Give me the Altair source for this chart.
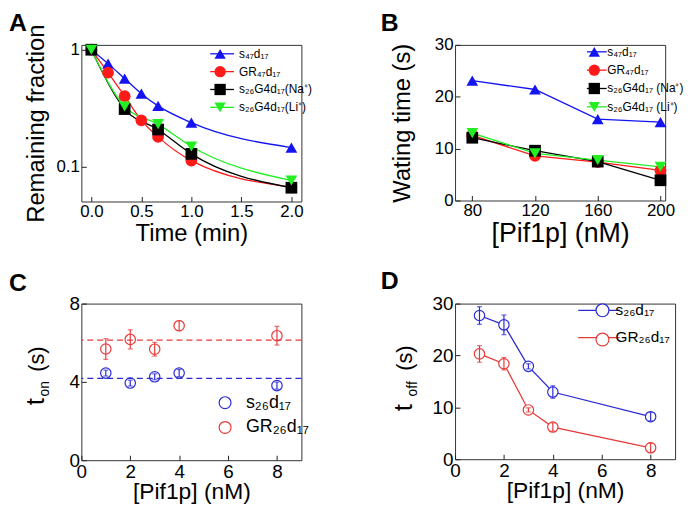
import altair as alt
import pandas as pd

FONT = "Liberation Sans"

# ---------------- Panel A data ----------------
a_series = ["s₄₇d₁₇", "GR₄₇d₁₇", "s₂₆G4d₁₇(Na⁺)", "s₂₆G4d₁₇(Li⁺)"]
a_colors = ["#1414f0", "#ff1a1a", "#000000", "#22ee22"]
a_shapes = ["triangle-up", "circle", "square", "triangle-down"]
a_t_s47 = [0, 0.167, 0.333, 0.5, 0.667, 1.0, 2.0]
a_s47 = [1.0, 0.76, 0.565, 0.42, 0.33, 0.237, 0.145]
a_t_gr47 = [0, 0.167, 0.333, 0.5, 0.667, 1.0, 2.0]
a_gr47 = [1.0, 0.635, 0.40, 0.248, 0.179, 0.112, 0.0665]
a_t_na = [0, 0.333, 0.667, 1.0, 2.0]
a_na = [1.0, 0.31, 0.207, 0.128, 0.0656]
a_t_li = [0, 0.333, 0.667, 1.0, 2.0]
a_li = [1.0, 0.326, 0.23, 0.148, 0.0757]

# ---------------- Panel B data ----------------
b_series = ["s₄₇d₁₇", "GR₄₇d₁₇", "s₂₆G4d₁₇ (Na⁺)", "s₂₆G4d₁₇ (Li⁺)"]
b_conc = [80, 120, 160, 200]
b_s47 = [23.1, 21.4, 15.7, 15.1]
b_gr47 = [12.55, 8.6, 7.4, 5.8]
b_na = [12.1, 9.6, 7.5, 3.9]
b_li = [13.0, 9.1, 7.8, 6.5]

# ---------------- Panel C / D data ----------------
cd_series = ["s₂₆d₁₇", "GR₂₆d₁₇"]
cd_colors = ["#2b2bd4", "#e63a3a"]
cd_conc = [1, 2, 3, 4, 8]
c_s26 = [4.45, 3.94, 4.26, 4.45, 3.81]
c_s26_err = [0.15, 0.15, 0.15, 0.18, 0.18]
c_gr26 = [5.68, 6.17, 5.67, 6.87, 6.36]
c_gr26_err = [0.53, 0.49, 0.35, 0.25, 0.48]
c_mean = [4.18, 6.13]
d_s26 = [27.7, 25.9, 17.9, 12.95, 8.2]
d_s26_err = [1.7, 1.9, 0.5, 1.2, 0.8]
d_gr26 = [20.3, 18.4, 9.5, 6.2, 2.2]
d_gr26_err = [1.6, 1.2, 0.4, 0.8, 0.9]

ZW = "\u200b"  # keeps symbol legends separate from the line legends
LINE_SYM = "M-4,0L4,0"

W_A, H_A = 222, 158
W_B, H_B = 212, 157
W_C, H_C = 222, 158
W_D, H_D = 222, 157


def long(series_names, xs_list, ys_list, errs_list=None):
    rows = []
    for i, (name, xs, ys) in enumerate(zip(series_names, xs_list, ys_list)):
        errs = errs_list[i] if errs_list else [0] * len(xs)
        for x, y, e in zip(xs, ys, errs):
            rows.append({"series": name, "sym": name + ZW, "x": x, "y": y,
                         "lo": y - e, "hi": y + e})
    return pd.DataFrame(rows)


df_a = long(a_series, [a_t_s47, a_t_gr47, a_t_na, a_t_li], [a_s47, a_gr47, a_na, a_li])
df_b = long(b_series, [b_conc] * 4, [b_s47, b_gr47, b_na, b_li])
df_c = long(cd_series, [cd_conc] * 2, [c_s26, c_gr26], [c_s26_err, c_gr26_err])
df_c_mean = pd.DataFrame({"series": cd_series, "y": c_mean})
df_d = long(cd_series, [cd_conc] * 2, [d_s26, d_gr26], [d_s26_err, d_gr26_err])

a_sym = [s + ZW for s in a_series]
b_sym = [s + ZW for s in b_series]
cd_sym = [s + ZW for s in cd_series]


def axis(values, fmt, lsize, tsize, tpad, title=None, lpad=2):
    kw = dict(values=values, format=fmt, labelFontSize=lsize, labelFont=FONT,
              labelColor="black", domain=False, ticks=True, tickSize=5,
              tickColor="#222", offset=-5, labelPadding=lpad, grid=False,
              titleFontSize=tsize, titleFont=FONT, titleFontWeight="normal",
              titleColor="black", titlePadding=tpad, labelFlush=False,
              labelOverlap=False)
    kw["title"] = title
    return alt.Axis(**kw)


def legend(x, y, fs, symsize, sw, rowpad, loff, stype=None, fillc=None, blank=False):
    kw = dict(orient="none", legendX=x, legendY=y, title=None, labelFontSize=fs,
              labelFont=FONT, labelColor="black", symbolSize=symsize,
              symbolStrokeWidth=sw, rowPadding=rowpad, labelOffset=loff,
              padding=0, labelLimit=400)
    if stype:
        kw["symbolType"] = stype
    if fillc:
        kw["symbolFillColor"] = fillc
    if blank:
        kw["labelExpr"] = "''"
    return alt.Legend(**kw)


def letter(ch, x, y):
    return alt.Chart(pd.DataFrame({"t": [ch]})).mark_text(
        font=FONT, fontSize=25, fontWeight="bold", align="left", baseline="top",
        color="black").encode(x=alt.value(x), y=alt.value(y), text="t:N")


def vtext(txt, x, y, size):
    return alt.Chart(pd.DataFrame({"t": [txt]})).mark_text(
        font=FONT, fontSize=size, angle=270, align="center", baseline="alphabetic",
        color="black").encode(x=alt.value(x), y=alt.value(y), text="t:N")


# ---------------- Panel A ----------------
xa = alt.X("x:Q", scale=alt.Scale(domain=[-0.1, 2.1], nice=False, zero=False),
           axis=axis([0, 0.5, 1, 1.5, 2], ".1f", 17, 24, 2, "Time (min)"))
ya = alt.Y("y:Q", scale=alt.Scale(type="log", domain=[0.05, 1.1], nice=False),
           axis=axis([0.1, 1], "~g", 17, 24, 8, "Remaining fraction"))
line_a = alt.Chart(df_a).mark_line(interpolate="monotone", strokeWidth=1.3).encode(
    x=xa, y=ya,
    color=alt.Color("series:N", scale=alt.Scale(domain=a_series, range=a_colors),
                    sort=a_series,
                    legend=legend(136, 3, 12, 36, 1.3, 6, 11, stype=LINE_SYM)))
leg_a_pt = legend(134, 3, 12, 130, 0, 6, 2, blank=True)
pt_a = alt.Chart(df_a).mark_point(filled=True, size=140, opacity=1, strokeOpacity=0).encode(
    x=xa, y=ya,
    fill=alt.Fill("sym:N", scale=alt.Scale(domain=a_sym, range=a_colors),
                  sort=a_sym, legend=leg_a_pt),
    shape=alt.Shape("sym:N", scale=alt.Scale(domain=a_sym, range=a_shapes),
                    sort=a_sym, legend=leg_a_pt))
panel_a = alt.layer(line_a, pt_a, letter("A", -73, -34)).properties(width=W_A, height=H_A)

# ---------------- Panel B ----------------
xb = alt.X("x:Q", scale=alt.Scale(domain=[69, 203], nice=False, zero=False),
           axis=axis([80, 120, 160, 200], "d", 17, 27, 2, "[Pif1p] (nM)"))
yb = alt.Y("y:Q", scale=alt.Scale(domain=[0, 30], nice=False),
           axis=axis([0, 10, 20, 30], "d", 17, 24, 20, "Wating time (s)"))
line_b = alt.Chart(df_b).mark_line(strokeWidth=1.3).encode(
    x=xb, y=yb,
    color=alt.Color("series:N", scale=alt.Scale(domain=b_series, range=a_colors),
                    sort=b_series,
                    legend=legend(137, 1, 12, 25, 1.3, 6.5, 4.5, stype=LINE_SYM)))
leg_b_pt = legend(134.5, 1, 12, 130, 0, 6.5, 2, blank=True)
pt_b = alt.Chart(df_b).mark_point(filled=True, size=140, opacity=1, strokeOpacity=0).encode(
    x=xb, y=yb,
    fill=alt.Fill("sym:N", scale=alt.Scale(domain=b_sym, range=a_colors),
                  sort=b_sym, legend=leg_b_pt),
    shape=alt.Shape("sym:N", scale=alt.Scale(domain=b_sym, range=a_shapes),
                    sort=b_sym, legend=leg_b_pt))
panel_b = alt.layer(line_b, pt_b, letter("B", -75, -34)).properties(width=W_B, height=H_B)

# ---------------- Panel C ----------------
xc = alt.X("x:Q", scale=alt.Scale(domain=[0, 9], nice=False, zero=False),
           axis=axis([0, 2, 4, 6, 8], "d", 19, 23, 0, "[Pif1p] (nM)"))
yc = alt.Y("y:Q", scale=alt.Scale(domain=[0, 8], nice=False),
           axis=axis([0, 2, 4, 6, 8], "d", 19, 24, 4))
cd_color = alt.Scale(domain=cd_series, range=cd_colors)
cd_color_sym = alt.Scale(domain=cd_sym, range=cd_colors)
mean_c = alt.Chart(df_c_mean).mark_rule(strokeDash=[6, 4], strokeWidth=1.3).encode(
    y=alt.Y("y:Q", scale=alt.Scale(domain=[0, 8], nice=False)),
    color=alt.Color("series:N", scale=cd_color, legend=None))
err_c = alt.Chart(df_c).mark_rule(strokeWidth=1.2).encode(
    x=xc, y=alt.Y("lo:Q"), y2="hi:Q",
    color=alt.Color("series:N", scale=cd_color, legend=None))
caplo_c = alt.Chart(df_c).mark_tick(orient="horizontal", size=5, thickness=1.2).encode(
    x=xc, y=alt.Y("lo:Q"), color=alt.Color("series:N", scale=cd_color, legend=None))
caphi_c = alt.Chart(df_c).mark_tick(orient="horizontal", size=5, thickness=1.2).encode(
    x=xc, y=alt.Y("hi:Q"), color=alt.Color("series:N", scale=cd_color, legend=None))
pt_c = alt.Chart(df_c).mark_point(filled=False, size=110, strokeWidth=1.2, opacity=1).encode(
    x=xc, y=yc,
    stroke=alt.Stroke("sym:N", scale=cd_color_sym, sort=cd_sym,
                      legend=legend(136, 91, 18, 144, 1.2, 7, 12)))
panel_c = alt.layer(
    mean_c, pt_c, err_c, caplo_c, caphi_c, letter("C", -73, -33),
    vtext("t", -38, 99, 26), vtext("on", -33, 86, 14), vtext("(s)", -38, 56, 22)
).properties(width=W_C, height=H_C)

# ---------------- Panel D ----------------
xd = alt.X("x:Q", scale=alt.Scale(domain=[0, 9], nice=False, zero=False),
           axis=axis([0, 2, 4, 6, 8], "d", 19, 23, 0, "[Pif1p] (nM)"))
yd = alt.Y("y:Q", scale=alt.Scale(domain=[0, 30], nice=False),
           axis=axis([0, 10, 20, 30], "d", 19, 24, 4))
line_d = alt.Chart(df_d).mark_line(strokeWidth=1.3).encode(
    x=xd, y=yd,
    color=alt.Color("series:N", scale=cd_color, sort=cd_series,
                    legend=legend(137.5, -1, 15.5, 110, 1.3, 10.5, 8.9, stype=LINE_SYM)))
pt_d = alt.Chart(df_d).mark_point(filled=False, fill="white", size=110, strokeWidth=1.2,
                                  opacity=1).encode(
    x=xd, y=yd,
    stroke=alt.Stroke("sym:N", scale=cd_color_sym, sort=cd_sym,
                      legend=legend(141, -1, 15.5, 169, 1.2, 10.5, 2, fillc="white",
                                    blank=True)))
err_d = alt.Chart(df_d).mark_rule(strokeWidth=1.2).encode(
    x=xd, y=alt.Y("lo:Q"), y2="hi:Q",
    color=alt.Color("series:N", scale=cd_color, legend=None))
caplo_d = alt.Chart(df_d).mark_tick(orient="horizontal", size=5, thickness=1.2).encode(
    x=xd, y=alt.Y("lo:Q"), color=alt.Color("series:N", scale=cd_color, legend=None))
caphi_d = alt.Chart(df_d).mark_tick(orient="horizontal", size=5, thickness=1.2).encode(
    x=xd, y=alt.Y("hi:Q"), color=alt.Color("series:N", scale=cd_color, legend=None))
panel_d = alt.layer(
    line_d, pt_d, err_d, caplo_d, caphi_d, letter("D", -75, -35),
    vtext("t", -43, 105, 26), vtext("off", -38, 86, 14), vtext("(s)", -43, 55, 22)
).properties(width=W_D, height=H_D)

chart = alt.concat(
    panel_a, panel_b, panel_c, panel_d, columns=2,
    spacing={"row": 103, "column": 155}, bounds="flush"
).resolve_scale(
    color="independent", fill="independent", shape="independent", stroke="independent"
).properties(padding=0, background="white").configure_view(
    stroke="#333", strokeWidth=1)

chart.save("out.html", embed_options={"renderer": "svg", "actions": False})
